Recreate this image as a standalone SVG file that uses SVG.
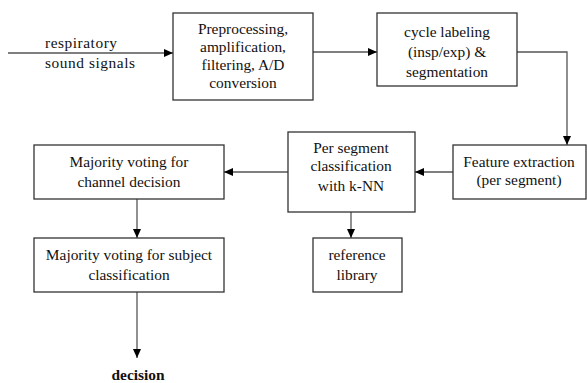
<svg xmlns="http://www.w3.org/2000/svg" width="587" height="383" viewBox="0 0 587 383">
<defs>
<style>
.box{fill:#fff;stroke:#333;stroke-width:1.3}
text{font-family:'Liberation Serif','Tinos','DejaVu Serif',serif;font-size:15.4px;fill:#111;text-anchor:middle}
.c{fill:none;stroke:#555;stroke-width:1.3}
</style>
<marker id="ah" markerWidth="10" markerHeight="10" refX="9" refY="5" orient="auto" markerUnits="userSpaceOnUse"><path d="M0,1 L9,5 L0,9 Z" fill="#000"/></marker>
</defs>
<rect width="587" height="383" fill="#fff"/>
<g id="connectors">
<path class="c" d="M8,53 H173" marker-end="url(#ah)"/>
<path class="c" d="M313,52 H377" marker-end="url(#ah)"/>
<path class="c" d="M517,52 H567 V145" marker-end="url(#ah)"/>
<path class="c" d="M453,172 H415" marker-end="url(#ah)"/>
<path class="c" d="M288,172 H224" marker-end="url(#ah)"/>
<path class="c" d="M351,212 V238" marker-end="url(#ah)"/>
<path class="c" d="M137,199 V238" marker-end="url(#ah)"/>
<path class="c" d="M137,292 V358" marker-end="url(#ah)"/>
</g>
<g id="input-label">
<text x="81" y="48" textLength="72" lengthAdjust="spacing">respiratory</text>
<text x="90" y="68" textLength="90" lengthAdjust="spacing">sound signals</text>
</g>
<g id="preprocessing">
<rect class="box" x="173" y="13" width="140" height="87"/>
<text x="243" y="34">Preprocessing,</text>
<text x="243" y="52">amplification,</text>
<text x="243" y="70">filtering, A/D</text>
<text x="243" y="88">conversion</text>
</g>
<g id="cycle">
<rect class="box" x="377" y="13" width="140" height="73"/>
<text x="447" y="37">cycle labeling</text>
<text x="447" y="57">(insp/exp) &amp;</text>
<text x="447" y="77">segmentation</text>
</g>
<g id="feature">
<rect class="box" x="453" y="145" width="133" height="54"/>
<text x="519" y="167">Feature extraction</text>
<text x="519" y="185">(per segment)</text>
</g>
<g id="knn">
<rect class="box" x="288" y="132" width="127" height="80"/>
<text x="351" y="153">Per segment</text>
<text x="351" y="171">classification</text>
<text x="351" y="191">with k-NN</text>
</g>
<g id="library">
<rect class="box" x="313" y="238" width="89" height="54"/>
<text x="357" y="260">reference</text>
<text x="357" y="280">library</text>
</g>
<g id="channel">
<rect class="box" x="34" y="145" width="190" height="54"/>
<text x="129" y="167">Majority voting for</text>
<text x="129" y="187">channel decision</text>
</g>
<g id="subject">
<rect class="box" x="34" y="238" width="190" height="54"/>
<text x="129" y="260">Majority voting for subject</text>
<text x="129" y="280">classification</text>
</g>
<g id="decision">
<text x="138" y="380" font-weight="bold">decision</text>
</g>
</svg>
